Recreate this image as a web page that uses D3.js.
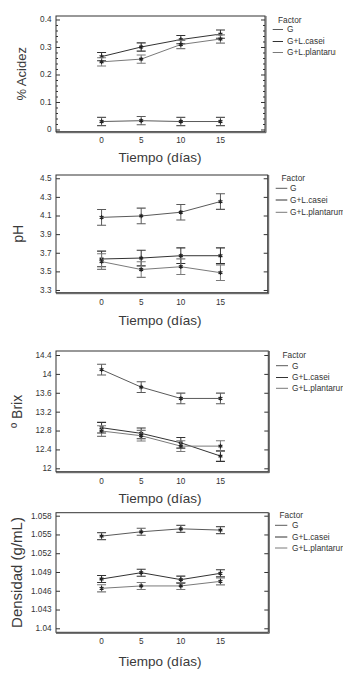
<!DOCTYPE html>
<html><head><meta charset="utf-8">
<script src="https://cdn.jsdelivr.net/npm/d3@7"></script>
<style>html,body{margin:0;padding:0;background:#fff;}svg{display:block;}text{font-weight:400;}</style>
</head><body>
<script>
// ---- data ----
const days = [0, 5, 10, 15];
const factors = ["G", "G+L.casei", "G+L.plantarum"];
const xTickLabels = ["0", "5", "10", "15"];
const xTitle = "Tiempo (días)";

const acidezG = [0.029, 0.032, 0.029, 0.029];
const acidezCasei = [0.265, 0.300, 0.327, 0.347];
const acidezPlantarum = [0.246, 0.256, 0.309, 0.329];
const acidezErr = 0.015;
const acidezTicks = [0, 0.1, 0.2, 0.3, 0.4];

const phG = [4.08, 4.095, 4.135, 4.25];
const phCasei = [3.633, 3.643, 3.668, 3.668];
const phPlantarum = [3.605, 3.52, 3.55, 3.486];
const phErr = 0.084;
const phTicks = [3.3, 3.5, 3.7, 3.9, 4.1, 4.3, 4.5];

const brixG = [14.09, 13.72, 13.48, 13.48];
const brixCasei = [12.86, 12.74, 12.54, 12.26];
const brixPlantarum = [12.79, 12.69, 12.47, 12.47];
const brixErr = 0.113;
const brixTicks = [12, 12.4, 12.8, 13.2, 13.6, 14, 14.4];

const densG = [1.05474, 1.05543, 1.0559, 1.0557];
const densCasei = [1.04788, 1.04889, 1.04778, 1.04879];
const densPlantarum = [1.04639, 1.04677, 1.04677, 1.0475];
const densErr = 0.00056;
const densTicks = [1.04, 1.043, 1.046, 1.049, 1.052, 1.055, 1.058];

// ---- layout ----
const panels = [
  {yTitle: "% Acidez", series: [acidezG, acidezCasei, acidezPlantarum], err: acidezErr, ticks: acidezTicks,
   domain: [-0.008, 0.4127], top: 16, bottom: 131.7, right: 265, minor: 0.02, fmt: d => d === 0 ? "0" : d3.format(".1f")(d),
   yTitleX: 21.7, yTitleSize: 13, xTickY: 140, xTitleY: 157,
   leg: {fx: 278, fy: 20, rows: [29.5, 41.5, 52.5], l0: 272.7, l1: 283, tx: 287, clip: 336}},
  {yTitle: "pH", series: [phG, phCasei, phPlantarum], err: phErr, ticks: phTicks,
   domain: [3.271, 4.535], top: 175, bottom: 292.7, right: 267.7, minor: null, fmt: d3.format(".1f"),
   yTitleX: 18.5, yTitleSize: 14, xTickY: 301.7, xTitleY: 320,
   leg: {fx: 281.5, fy: 178.3, rows: [188.3, 200, 212.3], l0: 275.7, l1: 287.3, tx: 290, clip: 343}},
  {yTitle: "º Brix", series: [brixG, brixCasei, brixPlantarum], err: brixErr, ticks: brixTicks,
   domain: [11.928, 14.485], top: 351, bottom: 471.7, right: 268.3, minor: null, fmt: d => (Math.round(d*10)/10).toString(),
   yTitleX: 17, yTitleSize: 14, xTickY: 481, xTitleY: 498,
   leg: {fx: 282.5, fy: 355, rows: [365.7, 377.5, 388.3], l0: 276, l1: 288, tx: 292, clip: 343}},
  {yTitle: "Densidad (g/mL)", series: [densG, densCasei, densPlantarum], err: densErr, ticks: densTicks,
   domain: [1.03936, 1.05848], top: 512.7, bottom: 632.3, right: 268.3, minor: null, fmt: d => (Math.round(d*1000)/1000).toString(),
   yTitleX: 17, yTitleSize: 15, xTickY: 641.3, xTitleY: 661.7,
   leg: {fx: 279.5, fy: 515, rows: [525.3, 537, 548], l0: 275, l1: 287.3, tx: 292, clip: 343}}
];
const seriesColors = ["#5a5a5a", "#333", "#7a7a7a"];
const frameLeft = 56;
const font = "Liberation Sans, Arimo, Arial, sans-serif";

const x = d3.scaleLinear().domain([-5.75, 21]).range([56, 268]);

const svg = d3.select("body").append("svg").attr("width", 351).attr("height", 673)
  .attr("font-family", font);

panels.forEach((p, pi) => {
  const y = d3.scaleLinear().domain(p.domain).range([p.bottom, p.top]);
  const g = svg.append("g");
  const clipId = "clip" + pi;
  svg.append("clipPath").attr("id", clipId).append("rect")
    .attr("x", frameLeft).attr("y", p.top).attr("width", p.right - frameLeft).attr("height", p.bottom - p.top);

  // frame
  g.append("rect").attr("x", frameLeft).attr("y", p.top).attr("width", p.right - frameLeft).attr("height", p.bottom - p.top)
    .attr("fill", "none").attr("stroke", "#333").attr("stroke-width", 1);
  g.append("line").attr("x1", frameLeft).attr("x2", p.right + 1).attr("y1", p.bottom + 1).attr("y2", p.bottom + 1).attr("stroke", "#555").attr("stroke-width", 1);
  g.append("line").attr("x1", p.right + 1).attr("x2", p.right + 1).attr("y1", p.top).attr("y2", p.bottom + 1).attr("stroke", "#555").attr("stroke-width", 1);

  // y axis ticks (inward) on both sides
  const gl = g.append("g").attr("transform", `translate(${frameLeft},0)`).call(d3.axisRight(y).tickValues(p.ticks).tickSize(4).tickFormat(""));
  gl.select(".domain").remove();
  const gr = g.append("g").attr("transform", `translate(${p.right},0)`).call(d3.axisLeft(y).tickValues(p.ticks).tickSize(4).tickFormat(""));
  gr.select(".domain").remove();
  if (p.minor) {
    const minorVals = d3.range(p.ticks[0], p.ticks[p.ticks.length - 1] + 1e-9, p.minor)
      .filter(v => !p.ticks.some(t => Math.abs(t - v) < 1e-9));
    const ml = g.append("g").attr("transform", `translate(${frameLeft},0)`).call(d3.axisRight(y).tickValues(minorVals).tickSize(2).tickFormat(""));
    ml.select(".domain").remove();
    const mr = g.append("g").attr("transform", `translate(${p.right},0)`).call(d3.axisLeft(y).tickValues(minorVals).tickSize(2).tickFormat(""));
    mr.select(".domain").remove();
  }
  g.selectAll(".tick line").attr("stroke", "#333").attr("stroke-width", 1);

  // y tick labels
  g.selectAll(null).data(p.ticks).enter().append("text")
    .attr("x", 51.5).attr("y", d => y(d)).attr("dy", "0.35em").attr("text-anchor", "end")
    .attr("font-size", 8.2).attr("fill", "#333").text(p.fmt);

  // x tick labels
  g.selectAll(null).data(days).enter().append("text")
    .attr("x", d => x(d)).attr("y", p.xTickY).attr("dy", "0.35em").attr("text-anchor", "middle")
    .attr("font-size", 8.2).attr("fill", "#333").text((d, i) => xTickLabels[i]);

  // titles
  g.append("text").attr("x", 160).attr("y", p.xTitleY).attr("dy", "0.35em").attr("text-anchor", "middle")
    .attr("font-size", 13.5).attr("fill", "#3a3a3a").text(xTitle);
  g.append("text").attr("transform", `translate(${p.yTitleX},${(p.top + p.bottom) / 2}) rotate(-90)`)
    .attr("dy", "0.35em").attr("text-anchor", "middle").attr("font-size", p.yTitleSize).attr("fill", "#3a3a3a").text(p.yTitle);

  // series
  const plot = g.append("g").attr("clip-path", `url(#${clipId})`);
  const line = d3.line().x((d, i) => x(days[i])).y(d => y(d));
  p.series.forEach((vals, si) => {
    const col = seriesColors[si];
    plot.append("path").datum(vals).attr("d", line).attr("fill", "none").attr("stroke", col).attr("stroke-width", 1);
    vals.forEach((v, i) => {
      const cx = x(days[i]);
      const y0 = y(v - p.err), y1 = y(v + p.err);
      plot.append("line").attr("x1", cx).attr("x2", cx).attr("y1", y0).attr("y2", y1).attr("stroke", col).attr("stroke-width", 1);
      [y0, y1].forEach(yy => plot.append("line").attr("x1", cx - 4.5).attr("x2", cx + 4.5).attr("y1", yy).attr("y2", yy)
        .attr("stroke", col).attr("stroke-width", 1.1));
    });
    plot.selectAll(null).data(vals).enter().append("path")
      .attr("transform", (d, i) => `translate(${x(days[i])},${y(d)})`)
      .attr("d", d3.symbol(d3.symbolAsterisk, 14)).attr("fill", "none").attr("stroke", "#222").attr("stroke-width", 1.2);
  });

  // legend
  const L = p.leg;
  const lc = "lclip" + pi;
  svg.append("clipPath").attr("id", lc).append("rect").attr("x", 260).attr("y", L.fy - 10).attr("width", L.clip - 260).attr("height", 50);
  const lg = g.append("g").attr("clip-path", `url(#${lc})`);
  lg.append("text").attr("x", L.fx).attr("y", L.fy).attr("dy", "0.35em").attr("font-size", 8.3).attr("fill", "#333").text("Factor");
  factors.forEach((f, i) => {
    lg.append("line").attr("x1", L.l0).attr("x2", L.l1).attr("y1", L.rows[i]).attr("y2", L.rows[i])
      .attr("stroke", seriesColors[i]).attr("stroke-width", 1);
    lg.append("text").attr("x", L.tx).attr("y", L.rows[i]).attr("dy", "0.35em").attr("font-size", 8.3).attr("fill", "#333").text(f);
  });
});
</script>
</body></html>
